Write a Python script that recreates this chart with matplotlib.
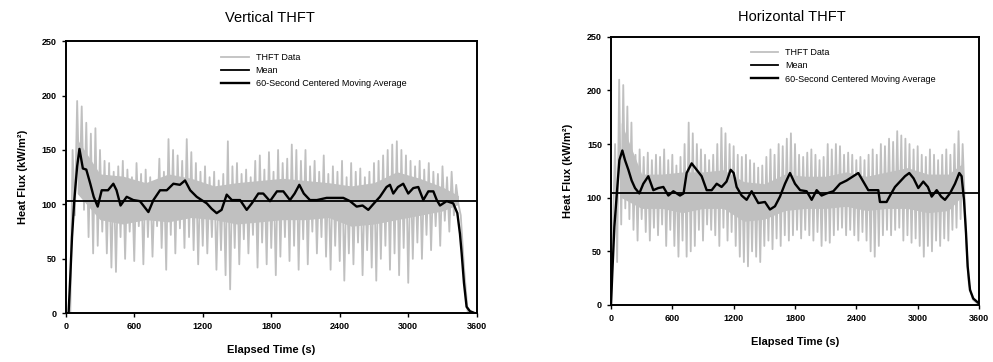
import numpy as np
import matplotlib
matplotlib.use("Agg")
import matplotlib.pyplot as plt

plt.rcParams['font.family'] = ['Liberation Sans', 'DejaVu Sans']

# ---- Vertical THFT ----
# grey raw data: upper peaks every 40 s from t=60, lower peaks every 40 s from t=80
v_hi = [150, 195, 190, 175, 165, 170, 150, 140, 138, 130, 135, 140, 132, 125, 138, 128, 132, 125, 120, 142,
        130, 160, 150, 145, 140, 160, 148, 138, 130, 135, 125, 130, 122, 128, 158, 135, 138, 128, 132, 125,
        140, 145, 132, 148, 130, 150, 138, 142, 155, 150, 140, 150, 135, 140, 130, 145, 128, 135, 130, 140,
        125, 138, 130, 133, 125, 130, 138, 140, 145, 150, 155, 158, 150, 145, 140, 135, 140, 132, 138, 130,
        128, 135, 125, 130, 118]
v_lo = [90, 110, 95, 70, 55, 62, 75, 55, 42, 38, 70, 50, 75, 48, 80, 45, 70, 52, 80, 60,
        40, 72, 55, 78, 60, 70, 58, 45, 62, 55, 70, 40, 58, 35, 22, 60, 45, 68, 55, 72,
        42, 65, 45, 60, 35, 52, 70, 48, 62, 40, 68, 45, 75, 55, 70, 52, 40, 62, 48, 30,
        55, 45, 65, 35, 58, 42, 30, 50, 62, 40, 55, 35, 60, 28, 50, 65, 50, 72, 58, 80,
        62, 85, 75, 90, 100]
v_lead_t, v_lead = [0, 40], [0, 0]
v_tail_t, v_tail = [3460, 3490, 3520, 3600], [90, 40, 2, 0]
# dense core of the grey band
core_t = [100, 300, 500, 700, 900, 1100, 1300, 1500, 1700, 1900, 2100, 2300, 2500, 2700, 2900, 3100, 3300, 3440]
v_core_hi = [160, 128, 126, 120, 128, 124, 117, 120, 122, 124, 122, 120, 117, 120, 130, 124, 116, 108]
v_core_lo = [110, 86, 82, 86, 84, 88, 86, 82, 84, 86, 86, 88, 80, 82, 86, 90, 94, 100]

# 60-second centered moving average
v_ma_t = [0, 25, 40, 55, 75, 100, 120, 150, 180, 215, 245, 280, 315, 370, 417, 445, 480, 534, 592, 650,
          724, 768, 826, 885, 943, 1000, 1045, 1090, 1147, 1190, 1235, 1278, 1322, 1365, 1410, 1455, 1527, 1585, 1630, 1687,
          1730, 1789, 1850, 1906, 1964, 2005, 2046, 2085, 2139, 2200, 2285, 2345, 2431, 2490, 2548, 2600, 2650, 2700, 2752, 2810,
          2840, 2869, 2910, 2956, 3000, 3044, 3088, 3132, 3176, 3220, 3250, 3278, 3336, 3394, 3430, 3453, 3468, 3488, 3511, 3540, 3585]
v_ma = [0, 0, 34, 70, 104, 135, 151, 133, 132, 119, 107, 98, 113, 113, 119, 113, 99, 107, 104, 103,
        93, 104, 113, 113, 119, 118, 122, 113, 107, 104, 101, 96, 92, 95, 109, 104, 104, 95, 101, 110,
        110, 103, 112, 112, 104, 110, 118, 110, 104, 104, 106, 106, 106, 103, 98, 99, 95, 101, 107, 116,
        118, 110, 116, 119, 110, 115, 116, 104, 112, 112, 104, 99, 103, 101, 92, 73, 55, 28, 6, 2, 0]
v_mean = 103

# ---- Horizontal THFT ----
h_hi = [150, 210, 205, 185, 170, 140, 145, 138, 142, 135, 140, 138, 145, 135, 140, 130, 138, 150, 170, 160,
        150, 145, 140, 135, 140, 150, 165, 160, 150, 148, 140, 138, 140, 135, 132, 128, 130, 138, 145, 140,
        150, 148, 155, 160, 150, 140, 138, 142, 145, 140, 135, 138, 150, 145, 150, 148, 140, 142, 140, 135,
        138, 135, 140, 145, 140, 150, 148, 155, 152, 162, 158, 155, 150, 145, 148, 140, 138, 145, 140, 135,
        140, 145, 140, 150, 162, 150]
h_lo = [40, 75, 90, 80, 70, 60, 80, 68, 60, 72, 65, 75, 55, 70, 55, 45, 60, 45, 50, 55,
        70, 60, 75, 70, 65, 55, 72, 60, 68, 55, 45, 40, 36, 50, 45, 40, 55, 60, 52, 62,
        55, 65, 60, 65, 70, 62, 70, 65, 60, 68, 55, 60, 58, 65, 70, 72, 65, 70, 65, 60,
        68, 60, 50, 45, 55, 65, 70, 65, 70, 72, 60, 65, 58, 62, 55, 45, 55, 50, 60, 55,
        62, 60, 70, 72, 80, 100]
h_lead_t, h_lead = [0], [0]
h_tail_t, h_tail = [3475, 3500, 3540, 3600], [60, 20, 5, 0]
h_core_hi = [170, 122, 122, 124, 124, 126, 115, 113, 122, 120, 120, 124, 120, 124, 128, 122, 122, 132]
h_core_lo = [100, 90, 90, 86, 90, 90, 78, 80, 88, 90, 90, 92, 88, 90, 90, 86, 88, 102]

h_ma_t = [0, 13, 33, 55, 82, 111, 137, 170, 202, 235, 277, 316, 365, 414, 463, 512, 561, 610, 675, 710,
          740, 789, 838, 887, 936, 985, 1034, 1082, 1130, 1171, 1200, 1229, 1278, 1327, 1376, 1441, 1506, 1555, 1604, 1653,
          1702, 1751, 1800, 1850, 1914, 1963, 2012, 2060, 2110, 2175, 2240, 2305, 2370, 2419, 2468, 2517, 2566, 2615, 2631, 2696,
          2730, 2778, 2827, 2876, 2918, 2960, 3006, 3055, 3100, 3137, 3186, 3230, 3267, 3316, 3365, 3407, 3430, 3453, 3473, 3489,
          3512, 3544, 3593]
h_ma = [0, 30, 73, 101, 135, 144, 135, 126, 116, 109, 104, 113, 120, 107, 109, 110, 102, 106, 102, 104,
        123, 132, 126, 120, 107, 107, 113, 110, 115, 126, 123, 110, 102, 98, 106, 95, 96, 89, 92, 101,
        113, 123, 113, 107, 106, 98, 107, 102, 104, 106, 113, 116, 120, 123, 115, 107, 107, 107, 96, 96,
        102, 110, 115, 120, 123, 118, 109, 115, 110, 101, 107, 101, 98, 104, 113, 123, 120, 98, 67, 36,
        14, 6, 2]
h_mean = 104

x_ticks = [0, 600, 1200, 1800, 2400, 3000, 3600]
y_ticks = [0, 50, 100, 150, 200, 250]
GREY = '#c0c0c0'


def raw_series(lead_t, lead, hi, lo, tail_t, tail, t0):
    # interleave upper and lower peaks into one jagged trace
    n = min(len(hi), len(lo))
    vals = np.ravel(np.column_stack([hi[:n], lo[:n]]))
    extra = list(hi[n:]) + list(lo[n:])
    vals = np.append(vals, extra)
    ts = t0 + 20 * np.arange(len(vals))
    t = np.concatenate([lead_t, ts, tail_t])
    y = np.concatenate([lead, vals, tail])
    return t, y


def draw(ax, t_raw, y_raw, c_hi, c_lo, ma_t, ma, mean, title, title_x, title_y, fig):
    ax.fill_between(core_t, c_lo, c_hi, color=GREY, lw=0)
    ax.plot(t_raw, y_raw, color=GREY, lw=1.3, label='THFT Data')
    ax.axhline(mean, color='black', lw=1.3, label='Mean')
    ax.plot(ma_t, ma, color='black', lw=1.7,
            label='60-Second Centered Moving Average')
    ax.set_xlim(0, 3600)
    ax.set_ylim(0, 250)
    ax.set_xticks(x_ticks)
    ax.set_yticks(y_ticks)
    ax.tick_params(labelsize=6.5, length=3, width=1, direction='out')
    for lab in ax.get_xticklabels() + ax.get_yticklabels():
        lab.set_fontweight('bold')
    for s in ax.spines.values():
        s.set_linewidth(1.4)
    ax.set_xlabel('Elapsed Time (s)', fontsize=8, fontweight='bold', labelpad=10)
    ax.set_ylabel('Heat Flux (kW/m²)', fontsize=8, fontweight='bold', labelpad=10)
    ax.legend(loc='upper left', bbox_to_anchor=(0.37, 0.97), frameon=False,
              fontsize=6.5, handlelength=3, labelspacing=0.45, borderaxespad=0)
    fig.text(title_x, title_y, title, ha='center', va='center', fontsize=10.5)


fig = plt.figure(figsize=(9.93, 3.62), dpi=100)
ax1 = fig.add_axes([0.0662, 0.1345, 0.4139, 0.752])
ax2 = fig.add_axes([0.6153, 0.1575, 0.3706, 0.741])

t1, y1 = raw_series(v_lead_t, v_lead, v_hi, v_lo, v_tail_t, v_tail, 60)
t2, y2 = raw_series(h_lead_t, h_lead, h_hi, h_lo, h_tail_t, h_tail, 40)

draw(ax1, t1, y1, v_core_hi, v_core_lo, v_ma_t, v_ma, v_mean, 'Vertical THFT', 0.272, 0.95, fig)
draw(ax2, t2, y2, h_core_hi, h_core_lo, h_ma_t, h_ma, h_mean, 'Horizontal THFT', 0.797, 0.953, fig)

fig.savefig('out.png', dpi=100)
